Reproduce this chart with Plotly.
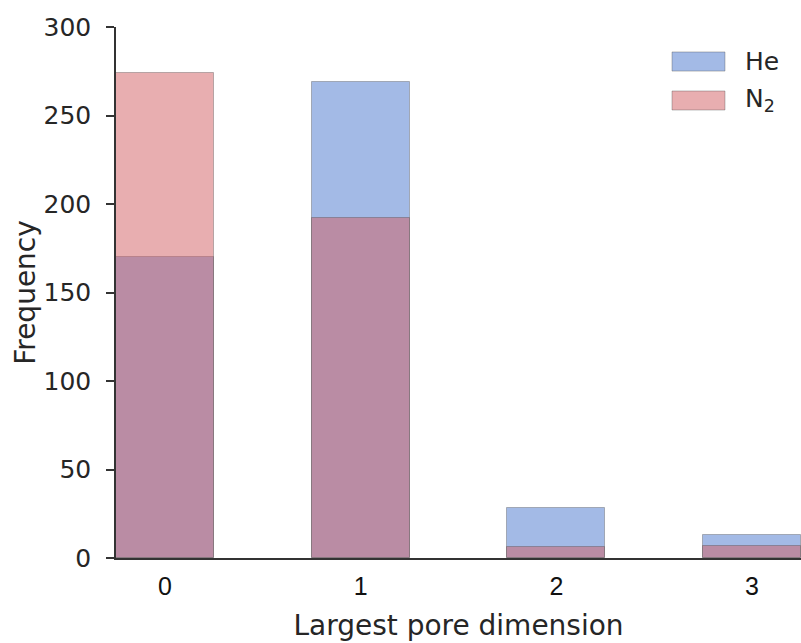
import plotly.graph_objects as go

categories = [0, 1, 2, 3]
tick_labels = ["0", "1", "2", "3"]
he_counts = [170, 269, 28, 13]
n2_counts = [274, 192, 6, 7]

he_color = "rgba(71,117,205,0.5)"
n2_color = "rgba(209,93,97,0.5)"
edge = "rgba(70,70,70,0.35)"
text_color = "#262626"
dejavu = "DejaVu Sans"

fig = go.Figure()
fig.add_trace(go.Bar(x=categories, y=he_counts, name="He", width=0.5,
                     marker=dict(color=he_color, line=dict(color=edge, width=1)),
                     showlegend=False))
fig.add_trace(go.Bar(x=categories, y=n2_counts, name="N<sub>2</sub>", width=0.5,
                     marker=dict(color=n2_color, line=dict(color=edge, width=1)),
                     showlegend=False))

# manual legend (wide swatches like the reference)
legend_items = [("He", he_color, 0.917, 0.953), ("N<sub>2</sub>", n2_color, 0.8437, 0.8795)]
for label, col, y0, y1 in legend_items:
    fig.add_shape(type="rect", xref="paper", yref="paper", x0=0.8117, x1=0.889, y0=y0, y1=y1,
                  fillcolor=col, line=dict(color=edge, width=1))
    fig.add_annotation(xref="paper", yref="paper", x=0.915, y=(y0 + y1) / 2, text=label,
                       showarrow=False, xanchor="left", yanchor="middle",
                       font=dict(family=dejavu, size=25, color=text_color))

fig.update_layout(
    width=801, height=643,
    margin=dict(l=116, r=0, t=27, b=85),
    paper_bgcolor="white", plot_bgcolor="white",
    barmode="overlay",
    bargap=0,
    xaxis=dict(
        range=[-0.25, 3.25], tickmode="array", tickvals=categories, ticktext=tick_labels,
        showgrid=False, zeroline=False, showline=True, linecolor="#333333", linewidth=1.5,
        ticks="", ticklabelstandoff=5,
        tickfont=dict(family="Liberation Sans", size=25, color="#111111"),
        title=dict(text="Largest pore dimension", standoff=17,
                   font=dict(family=dejavu, size=28, color=text_color)),
    ),
    yaxis=dict(
        range=[0, 300], tickmode="array", tickvals=[0, 50, 100, 150, 200, 250, 300],
        showgrid=False, zeroline=False, showline=True, linecolor="#333333", linewidth=1.5,
        ticks="outside", ticklen=8, tickwidth=1.5, tickcolor="#333333", ticklabelstandoff=10,
        tickfont=dict(family=dejavu, size=25, color=text_color),
        title=dict(text="Frequency", standoff=0,
                   font=dict(family=dejavu, size=28, color=text_color)),
    ),
)

fig.write_html("out.html")
